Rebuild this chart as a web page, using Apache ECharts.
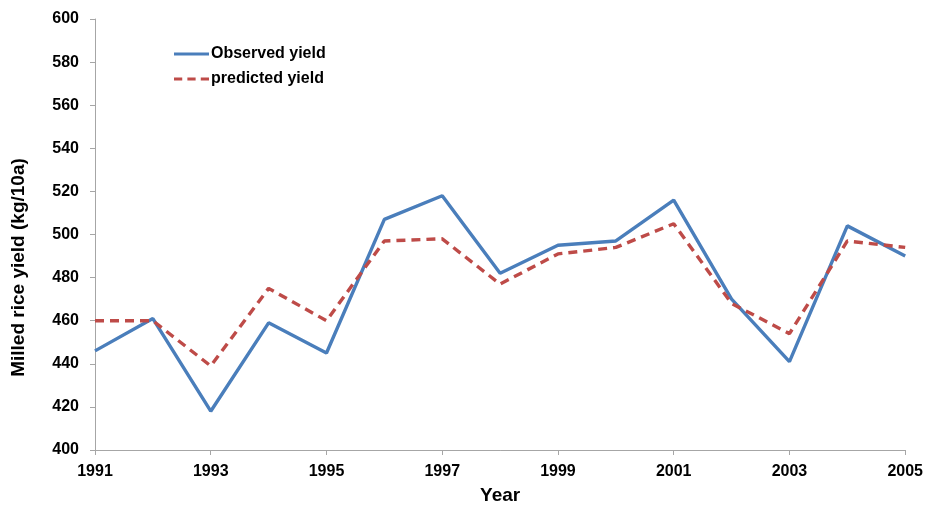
<!DOCTYPE html>
<html>
<head>
<meta charset="utf-8">
<script src="https://cdn.jsdelivr.net/npm/echarts@6/dist/echarts.min.js"></script>
<style>
  html, body { margin: 0; padding: 0; background: #fff; }
  #chart { width: 926px; height: 510px; }
</style>
</head>
<body>
<div id="chart"></div>
<script>
// Milled rice yield by year, observed vs. model prediction
const years = ['1991','1992','1993','1994','1995','1996','1997','1998','1999','2000','2001','2002','2003','2004','2005'];
const observedYield = [446, 461, 418, 459, 445, 507, 518, 482, 495, 497, 516, 470, 441, 504, 490];
const predictedYield = [460, 460, 439, 475, 460, 497, 498, 477, 491, 494, 505, 468, 454, 497, 494];

const FONT = '"Liberation Sans", Arial, sans-serif';
const axisGray = '#a6a6a6';

const chart = echarts.init(document.getElementById('chart'));
chart.setOption({
  animation: false,
  backgroundColor: '#fff',
  grid: { left: 95, right: 20, top: 19, bottom: 52, containLabel: false },
  legend: {
    left: 174, top: 46, orient: 'vertical', itemGap: 9,
    itemWidth: 35, itemHeight: 16, padding: 0,
    textStyle: { fontFamily: FONT, fontWeight: 'bold', fontSize: 16, color: '#000', padding: [0, 0, 0, -3] },
    data: [
      { name: 'Observed yield', icon: 'path://M0,0 L35,0 L35,3 L0,3 Z' },
      { name: 'predicted yield', icon: 'path://M0,0 L8,0 L8,3 L0,3 Z M13,0 L21,0 L21,3 L13,3 Z M26,0 L34,0 L34,3 L26,3 Z' }
    ]
  },
  xAxis: {
    type: 'category', data: years, boundaryGap: false,
    name: 'Year', nameLocation: 'middle', nameGap: 36,
    nameTextStyle: { fontFamily: FONT, fontWeight: 'bold', fontSize: 19, color: '#000' },
    axisLine: { lineStyle: { color: axisGray, width: 1 } },
    axisTick: { interval: 1, length: 5, lineStyle: { color: axisGray } },
    axisLabel: { interval: 1, margin: 14, fontFamily: FONT, fontWeight: 'bold', fontSize: 16, color: '#000' },
    splitLine: { show: false }
  },
  yAxis: {
    type: 'value', min: 400, max: 600, interval: 20,
    name: 'Milled rice yield (kg/10a)', nameLocation: 'middle', nameGap: 67, nameRotate: 90,
    nameTextStyle: { fontFamily: FONT, fontWeight: 'bold', fontSize: 19, color: '#000', padding: [0, 66, 0, 0] },
    axisLine: { show: true, lineStyle: { color: axisGray, width: 1 } },
    axisTick: { show: true, length: 5, lineStyle: { color: axisGray } },
    axisLabel: { margin: 16, fontFamily: FONT, fontWeight: 'bold', fontSize: 16, color: '#000' },
    splitLine: { show: false }
  },
  series: [
    {
      name: 'Observed yield', type: 'line', data: observedYield,
      symbol: 'none', color: '#4a7ebb',
      lineStyle: { color: '#4a7ebb', width: 3.4 }
    },
    {
      name: 'predicted yield', type: 'line', data: predictedYield,
      symbol: 'none', color: '#be4b48',
      lineStyle: { color: '#be4b48', width: 3.4, type: [9, 6] }
    }
  ]
});
</script>
</body>
</html>
